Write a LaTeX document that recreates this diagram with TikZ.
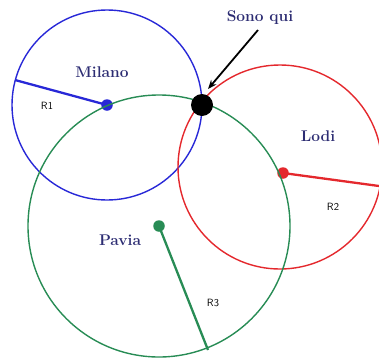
\documentclass[tikz,border=0pt]{standalone}
\usepackage{tikz}
\usetikzlibrary{positioning,arrows.meta,calc}
\definecolor{milblue}{RGB}{40,40,215}
\definecolor{lodred}{RGB}{228,40,45}
\definecolor{pavgreen}{RGB}{40,140,85}
\definecolor{cityname}{RGB}{45,45,115}

\begin{document}
\begin{tikzpicture}[x=1pt,y=-1pt,every node/.style={inner sep=0pt},
  city/.style={font=\fontsize{15.5}{17}\selectfont\bfseries, text=cityname},
  rlabel/.style={font=\sffamily\fontsize{10.5}{12}\selectfont}]
\useasboundingbox (0,0) rectangle (379,359);
\foreach \nm/\cx/\cy/\rad/\px/\py/\ex/\ey/\col in {%
  mil/107/105/95/107/105/15/80/milblue,%
  lod/280/167/102/283/173/379/186/lodred,%
  pav/159/226/131/159/226/208/350/pavgreen%
} {
  \draw[\col, line width=1.4pt] (\cx,\cy) circle[radius=\rad];
  \node[circle, fill=\col, minimum size=11.5pt] (\nm) at (\px,\py) {};
  \coordinate (\nm-end) at (\ex,\ey);
  \draw[\col, line width=2.3pt] (\nm.center) -- (\nm-end);
}
\node[circle, fill=black, minimum size=22pt] (here) at (202,105) {};
\node[city] (milano) at (102,72) {Milano};
\node[city] (lodi) at (318,136) {Lodi};
\node[city] (pavia) at (120,240) {Pavia};
\node[city] (sono) at (260,18) {Sono qui};
\node[rlabel] (r1) at (47,106) {R1};
\node[rlabel] (r2) at (333,207) {R2};
\node[rlabel] (r3) at (213,303) {R3};
\coordinate (arrstart) at (258,30);
\coordinate (arrtip) at (208,89);
\draw[-{Stealth[length=9pt,width=7pt]}, line width=1.8pt] (arrstart) -- (arrtip);
\end{tikzpicture}
\end{document}
